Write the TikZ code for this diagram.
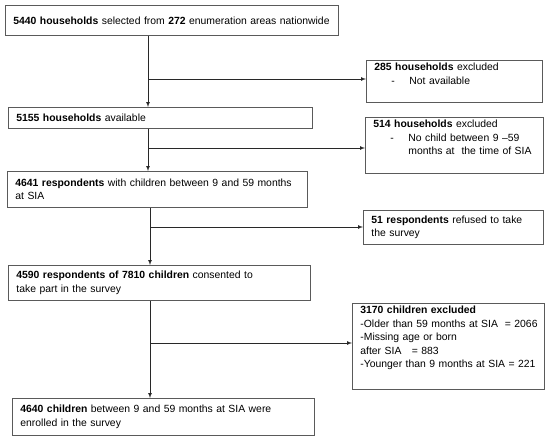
\documentclass[tikz,border=0pt]{standalone}
\usepackage{fontspec}
\setmainfont{Liberation Sans}
\usepackage{tikz}
\usetikzlibrary{arrows,positioning,calc}
\definecolor{boxgray}{RGB}{90,90,90}
\definecolor{linegray}{RGB}{40,40,40}
\tikzstyle{box}=[draw=boxgray,line width=0.8pt,anchor=north west,align=left,inner xsep=8pt,inner ysep=2pt,font=\fontsize{10.4}{13.5}\selectfont]
\tikzstyle{link}=[draw=linegray,line width=0.7pt]

\begin{document}
\begin{tikzpicture}[x=1pt,y=-1pt,>=latex]
    \useasboundingbox (0,0) rectangle (550,441);
    % main flow
    \node [box,minimum width=333pt,minimum height=30pt,text width=317pt] (sel) at (5,5)
      {\textbf{5440 households} selected from \textbf{272} enumeration areas nationwide};
    \node [box,minimum width=304pt,minimum height=21pt,text width=288pt] (avail) at (8,107)
      {\textbf{5155 households} available};
    \node [box,minimum width=300pt,minimum height=36pt,text width=284pt] (resp) at (7,171)
      {\textbf{4641 respondents} with children between 9 and 59 months\\at SIA};
    \node [box,minimum width=302pt,minimum height=35pt,text width=286pt] (cons) at (8,265)
      {\textbf{4590 respondents of 7810 children} consented to\\take part in the survey};
    \node [box,minimum width=302pt,minimum height=37pt,text width=286pt] (enrol) at (12,398)
      {\textbf{4640 children} between 9 and 59 months at SIA were\\enrolled in the survey};
    % exclusions
    \node [box,minimum width=176pt,minimum height=42pt,text width=160pt] (exa) at (366,60)
      {\parbox[c][36pt][t]{160pt}{\textbf{285 households} excluded\\
        \hspace*{17pt}\makebox[18pt][l]{-}Not available}};
    \node [box,minimum width=178pt,minimum height=56pt,text width=162pt] (exb) at (365,117)
      {\parbox[c][50pt][t]{162pt}{\textbf{514 households} excluded\\
        \hspace*{17pt}\makebox[18pt][l]{-}No child between 9 –59\\
        \hspace*{35pt}months at\ \ the time of SIA}};
    \node [box,minimum width=180pt,minimum height=34pt,text width=164pt] (exc) at (363,210)
      {\textbf{51 respondents} refused to take\\the survey};
    \node [box,minimum width=192pt,minimum height=86pt,text width=176pt] (exd) at (352,303)
      {\parbox[c][80pt][t]{176pt}{\textbf{3170 children excluded}\\
        \mbox{-Older than 59 months at SIA\ \ = 2066}\\
        -Missing age or born\\
        after SIA\ \ \ = 883\\
        \mbox{-Younger than 9 months at SIA = 221}}};
    % junctions
    \coordinate (ja) at (148,79);
    \coordinate (jb) at (148,148);
    \coordinate (jc) at (150,227);
    \coordinate (jd) at (150,343);
    \draw [link] (sel.south -| ja) -- (ja);
    \draw [link,->] (ja) -- (avail.north -| ja);
    \draw [link,->] (ja) -- (exa.west |- ja);
    \draw [link] (avail.south -| jb) -- (jb);
    \draw [link,->] (jb) -- (resp.north -| jb);
    \draw [link,->] (jb) -- (exb.west |- jb);
    \draw [link] (resp.south -| jc) -- (jc);
    \draw [link,->] (jc) -- (cons.north -| jc);
    \draw [link,->] (jc) -- (exc.west |- jc);
    \draw [link] (cons.south -| jd) -- (jd);
    \draw [link,->] (jd) -- (enrol.north -| jd);
    \draw [link,->] (jd) -- (exd.west |- jd);
\end{tikzpicture}
\end{document}
